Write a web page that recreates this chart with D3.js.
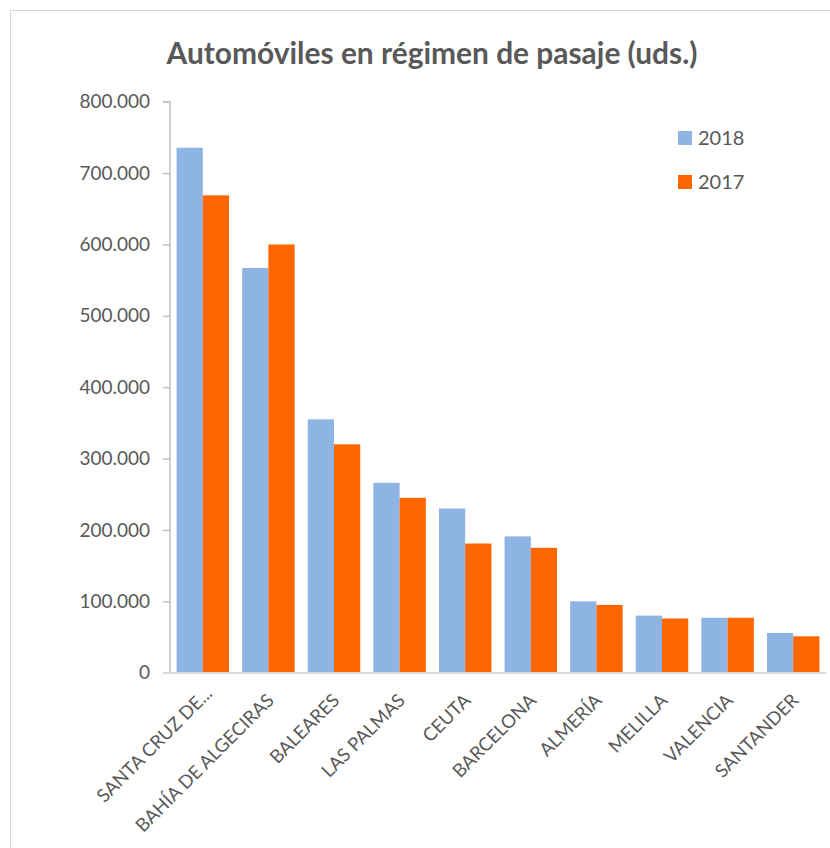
<!DOCTYPE html>
<html><head><meta charset="utf-8">
<script src="https://cdn.jsdelivr.net/npm/d3@7"></script>
<style>body{margin:0;background:#fff}svg{display:block}text{font-family:Lato,"Open Sans",sans-serif;fill:#595959}</style>
</head><body>
<svg id="c" width="830" height="848"></svg>
<script>
const categories = ["SANTA CRUZ DE...", "BAHÍA DE ALGECIRAS", "BALEARES", "LAS PALMAS", "CEUTA", "BARCELONA", "ALMERÍA", "MELILLA", "VALENCIA", "SANTANDER"];
const seriesNames = ["2018", "2017"];
const values2018 = [735500, 567000, 355000, 266000, 230000, 191000, 100000, 80000, 77000, 55600];
const values2017 = [668800, 600000, 320000, 245000, 181000, 175000, 95000, 76000, 77000, 51000];
const yTicks = [0, 100000, 200000, 300000, 400000, 500000, 600000, 700000, 800000];
const colors = ["#8EB4E3", "#FF6600"];
const title = "Automóviles en régimen de pasaje (uds.)";

const svg = d3.select("#c");
svg.append("rect").attr("x",10.5).attr("y",10.5).attr("width",830).attr("height",850)
  .attr("fill","#fff").attr("stroke","#d9d9d9").attr("stroke-width",1);

const x0 = d3.scaleBand().domain(categories).range([170, 826]).paddingInner(0).paddingOuter(0);
const step = x0.bandwidth();
const x1 = d3.scaleBand().domain(seriesNames).range([step*0.1, step*0.9]).padding(0);
const y = d3.scaleLinear().domain([0, 800000]).range([672.7, 101.7]);

const loc = d3.formatLocale({decimal:",", thousands:".", grouping:[3], currency:["","€"]});
const fmt = loc.format(",d");

// Title
const t = svg.append("text").attr("x", 432).attr("y", 64).attr("text-anchor","middle")
  .attr("font-weight","bold").style("font-size","24px").text(title);
const tw = t.node().getComputedTextLength();
t.style("font-size", (24*531/tw).toFixed(2)+"px");

// Y axis
const yAxis = d3.axisLeft(y).tickValues(yTicks).tickFormat(fmt).tickSize(7).tickPadding(13);
const gy = svg.append("g").attr("transform","translate(170,0)").call(yAxis);
gy.select(".domain").attr("stroke","#bfbfbf").attr("stroke-width",1.5).attr("d","M-7,101.7H0V672.7");
gy.selectAll(".tick line").attr("stroke","#bfbfbf").attr("stroke-width",1.5);
gy.selectAll(".tick text").style("font-size","19px").style("font-family","Lato").attr("fill","#595959");

// Bars
const data = categories.map((c,i)=>({cat:c, vals:[values2018[i], values2017[i]]}));
const g = svg.append("g");
g.selectAll("g.cat").data(data).join("g").attr("class","cat")
  .attr("transform", d=>`translate(${x0(d.cat)},0)`)
  .selectAll("rect").data(d=>d.vals.map((v,j)=>({s:seriesNames[j], v, j})))
  .join("rect")
  .attr("x", d=>x1(d.s)).attr("width", x1.bandwidth())
  .attr("y", d=>y(d.v)).attr("height", d=>y(0)-y(d.v))
  .attr("fill", d=>colors[d.j]);

// X axis baseline
const xAxis = d3.axisBottom(x0).tickSize(0).tickFormat("");
const gx = svg.append("g").attr("transform","translate(0,673)").call(xAxis);
gx.select(".domain").attr("stroke","#d9d9d9").attr("stroke-width",2).attr("d","M163,0H826");

// X labels
svg.append("g").selectAll("text").data(categories).join("text")
  .attr("transform", (d,i)=>`translate(${x0(d)+step/2+2+(i===0?4:0)},${697-(i===0?7:0)}) rotate(-45)`)
  .attr("text-anchor","end").attr("dy","0.35em")
  .style("font-size","18.5px").text(d=>d);

// Legend
const lg = svg.append("g");
seriesNames.forEach((s,i)=>{
  lg.append("rect").attr("x",678).attr("y",131+i*44).attr("width",14).attr("height",14).attr("fill",colors[i]);
  lg.append("text").attr("x",698).attr("y",138+i*44).attr("dy","0.35em").style("font-size","20px").text(s);
});
</script>
</body></html>
